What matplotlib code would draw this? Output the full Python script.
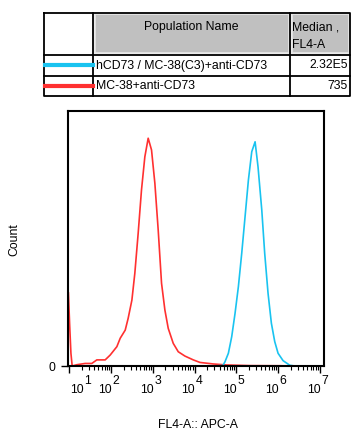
import numpy as np
import matplotlib
matplotlib.use('Agg')
import matplotlib.pyplot as plt
import matplotlib.transforms as mtransforms
from matplotlib.ticker import LogLocator, NullFormatter

plt.rcParams['font.family'] = ['Liberation Sans', 'DejaVu Sans']

# histogram traces: x as log10(FL4-A), y as count (arbitrary, ylim 0-100)
red_exp = [0.98, 1.01, 1.04, 1.07, 1.18, 1.38, 1.54, 1.66, 1.86, 1.98, 2.14, 2.22,
           2.34, 2.41, 2.50, 2.57, 2.65, 2.73, 2.81, 2.89, 2.97, 3.05, 3.13, 3.21,
           3.29, 3.37, 3.49, 3.61, 3.77, 3.97, 4.13, 4.45, 4.77, 5.33, 6.04, 6.3]
red_count = [28.7, 16.0, 5.0, 0.0, 0.5, 1.0, 1.0, 2.4, 2.4, 4.3, 7.6, 10.9,
             14.1, 18.7, 25.9, 36.4, 52.1, 69.2, 82.2, 89.5, 84.9, 71.8, 53.4, 32.5,
             22.0, 14.8, 8.9, 5.6, 3.9, 2.4, 1.4, 0.8, 0.4, 0.15, 0.1, 0.0]

cyan_exp = [0.97, 4.44, 4.68, 4.73, 4.81, 4.89, 4.97, 5.05, 5.13, 5.21, 5.29, 5.37,
            5.45, 5.52, 5.61, 5.68, 5.76, 5.84, 5.92, 6.00, 6.12, 6.28, 6.4, 7.1]
cyan_count = [0.0, 0.0, 0.2, 1.7, 5.0, 11.5, 20.7, 31.2, 44.3, 58.7, 73.1, 84.2,
              88.1, 78.3, 61.3, 44.3, 28.6, 16.8, 9.6, 5.0, 2.1, 0.3, 0.0, 0.0]

series_names = ['hCD73 / MC-38(C3)+anti-CD73', 'MC-38+anti-CD73']
series_medians = ['2.32E5', '735']
series_colors = ['#19c3f0', '#ff3030']
decades = [1, 2, 3, 4, 5, 6, 7]

fig = plt.figure(figsize=(3.61, 4.40), dpi=100)

# ---- table / legend on top, drawn in pixel coordinates ----
tab = fig.add_axes([0, 0, 1, 1])
tab.set_xlim(0, 361)
tab.set_ylim(440, 0)
tab.axis('off')

L, C1, C2, R = 44, 93, 290, 350
T, H, R1, B = 13, 55, 76, 96
# grey header cells with light inner border
for x0, x1 in [(C1, C2), (C2, R)]:
    tab.add_patch(plt.Rectangle((x0 + 1.5, T + 1.5), x1 - x0 - 3, H - T - 3,
                                facecolor='#c0c0c0', edgecolor='#e8e8e8', lw=1.2))
lw = 1.3
tab.plot([L, R, R, L, L], [T, T, B, B, T], color='black', lw=lw)
tab.plot([L, R], [H, H], color='black', lw=lw)
tab.plot([L, R], [R1, R1], color='black', lw=lw)
tab.plot([C1, C1], [T, B], color='black', lw=lw)
tab.plot([C2, C2], [T, B], color='black', lw=lw)

fs = 8.8
tab.text((C1 + C2) / 2, 27, 'Population Name', ha='center', va='center', fontsize=fs)
tab.text(C2 + 2, 27, 'Median ,', ha='left', va='center', fontsize=fs)
tab.text(C2 + 2, 45, 'FL4-A', ha='left', va='center', fontsize=fs)
for i, (name, med, col) in enumerate(zip(series_names, series_medians, series_colors)):
    yc = (H + R1) / 2 if i == 0 else (R1 + B) / 2
    tab.plot([L + 1, C1], [yc, yc], color=col, lw=3)
    tab.text(C1 + 3, yc, name, ha='left', va='center', fontsize=fs)
    tab.text(R - 2, yc, med, ha='right', va='center', fontsize=fs)

# ---- histogram ----
ax = fig.add_axes([68 / 361, 74 / 440, 256 / 361, 254.5 / 440])
ax.patch.set_alpha(0)
ax.plot(10 ** np.array(red_exp), red_count, color=series_colors[1], lw=1.2)
ax.plot(10 ** np.array(cyan_exp), cyan_count, color=series_colors[0], lw=1.2)
ax.set_xscale('log')
ax.set_xlim(10 ** 0.97, 10 ** 7.1)
ax.set_ylim(0, 100)

for s in ax.spines.values():
    s.set_linewidth(1.5)

ax.xaxis.set_major_locator(LogLocator(base=10, numticks=20))
ax.xaxis.set_minor_locator(LogLocator(base=10, subs=np.arange(2, 10), numticks=20))
ax.xaxis.set_major_formatter(NullFormatter())
ax.xaxis.set_minor_formatter(NullFormatter())
ax.tick_params(axis='x', which='major', length=5, width=1, direction='out')
ax.tick_params(axis='x', which='minor', length=3, width=0.8, direction='out')
ax.set_yticks([0])
ax.set_yticklabels(['0'], fontsize=fs)
ax.tick_params(axis='y', length=5, width=1, pad=4)

# decade labels: "10" with a full-size raised exponent
bt = mtransforms.blended_transform_factory(ax.transData, ax.transAxes)
for d in decades:
    shift = 10 if d == 1 else 0
    t10 = mtransforms.offset_copy(bt, fig=fig, x=shift + 0.5, y=-19.5, units='points')
    tex = mtransforms.offset_copy(bt, fig=fig, x=shift + 1.0, y=-13.0, units='points')
    ax.text(10 ** d, 0, '10', transform=t10, ha='right', va='baseline', fontsize=fs)
    ax.text(10 ** d, 0, str(d), transform=tex, ha='left', va='baseline', fontsize=fs)

fig.text(198 / 361, 1 - 425 / 440, 'FL4-A:: APC-A', ha='center', va='center', fontsize=fs)
fig.text(14 / 361, 1 - 240 / 440, 'Count', ha='center', va='center', rotation=90, fontsize=fs)

fig.savefig('out.png', dpi=100)
